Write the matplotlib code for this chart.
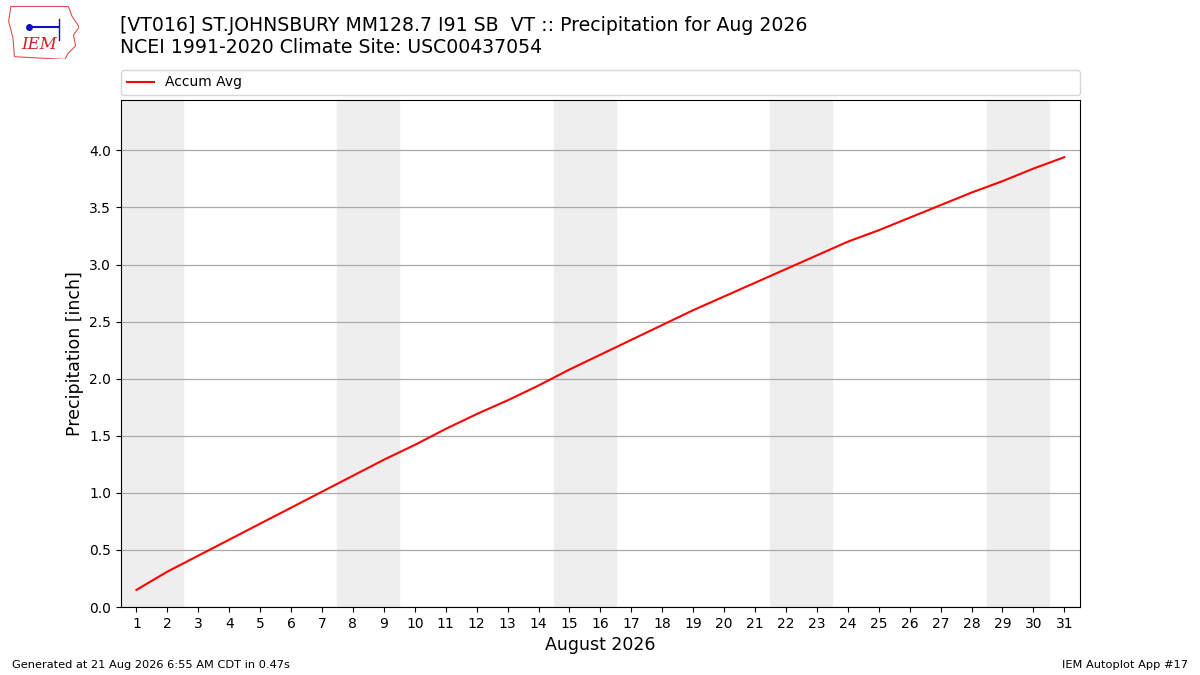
import matplotlib
matplotlib.use("Agg")
import matplotlib.pyplot as plt
from matplotlib.patches import Polygon

# daily accumulated average precipitation, Aug 1..31
days = list(range(1, 32))
accum_avg = [0.15, 0.31, 0.45, 0.59, 0.73, 0.87, 1.01, 1.15, 1.29, 1.42,
             1.56, 1.69, 1.81, 1.94, 2.08, 2.21, 2.34, 2.47, 2.60, 2.72,
             2.84, 2.96, 3.08, 3.20, 3.30, 3.41, 3.52, 3.63, 3.73, 3.84, 3.94]
# weekend day starts (Sat) for shading
weekend_starts = [1, 8, 15, 22, 29]

title = ("[VT016] ST.JOHNSBURY MM128.7 I91 SB  VT :: Precipitation for Aug 2026\n"
         "NCEI 1991-2020 Climate Site: USC00437054")

fig = plt.figure(figsize=(12, 6.75), dpi=100)
ax = fig.add_axes([0.1008, 0.1007, 0.799, 0.751])

for d in weekend_starts:
    ax.axvspan(d - 0.5, d + 1.5, color="#eeeeee", zorder=0)

ax.plot(days, accum_avg, color="r", lw=1.5, label="Accum Avg", zorder=3)

ax.set_xlim(0.5, 31.5)
ax.set_ylim(0, 4.44)
ax.set_xticks(days)
ax.set_yticks([i * 0.5 for i in range(9)])
ax.yaxis.set_major_formatter(matplotlib.ticker.FormatStrFormatter("%.1f"))
ax.grid(axis="y", color="#aaaaaa", lw=0.9)
ax.set_axisbelow(True)
ax.set_xlabel("August 2026", fontsize=12.5)
ax.set_ylabel("Precipitation [inch]", fontsize=12.5)

ax.legend(loc="lower left", bbox_to_anchor=(0, 1.01, 1, 0.05), mode="expand",
          ncol=1, borderaxespad=0, fontsize=10)

fig.text(0.1, 0.976, title, fontsize=13.6, va="top", ha="left")

# rough IEM logo
logo = fig.add_axes([0.006, 0.912, 0.06, 0.08])
logo.set_xlim(0, 1)
logo.set_ylim(0, 1)
logo.axis("off")
outline = [(0.05, 0.98), (0.85, 0.98), (0.9, 0.8), (1.0, 0.6), (0.92, 0.45),
           (0.95, 0.25), (0.85, 0.12), (0.8, 0.0), (0.1, 0.05), (0.08, 0.4),
           (0.02, 0.7)]
logo.add_patch(Polygon(outline, closed=True, fill=False, ec="#e05050", lw=0.8))
logo.plot([0.3, 0.72], [0.6, 0.6], color="#1010c0", lw=1.5)
logo.plot([0.3], [0.6], "o", color="#1010c0", ms=4)
logo.plot([0.72, 0.72], [0.75, 0.35], color="#1010c0", lw=1)
logo.text(0.45, 0.12, "IEM", color="#d02020", fontsize=12, family="serif",
          style="italic", ha="center", va="bottom")

fig.text(0.01, 0.01, "Generated at 21 Aug 2026 6:55 AM CDT in 0.47s", fontsize=8.2)
fig.text(0.99, 0.01, "IEM Autoplot App #17", fontsize=8.2, ha="right")

fig.savefig("out.png", dpi=100)
